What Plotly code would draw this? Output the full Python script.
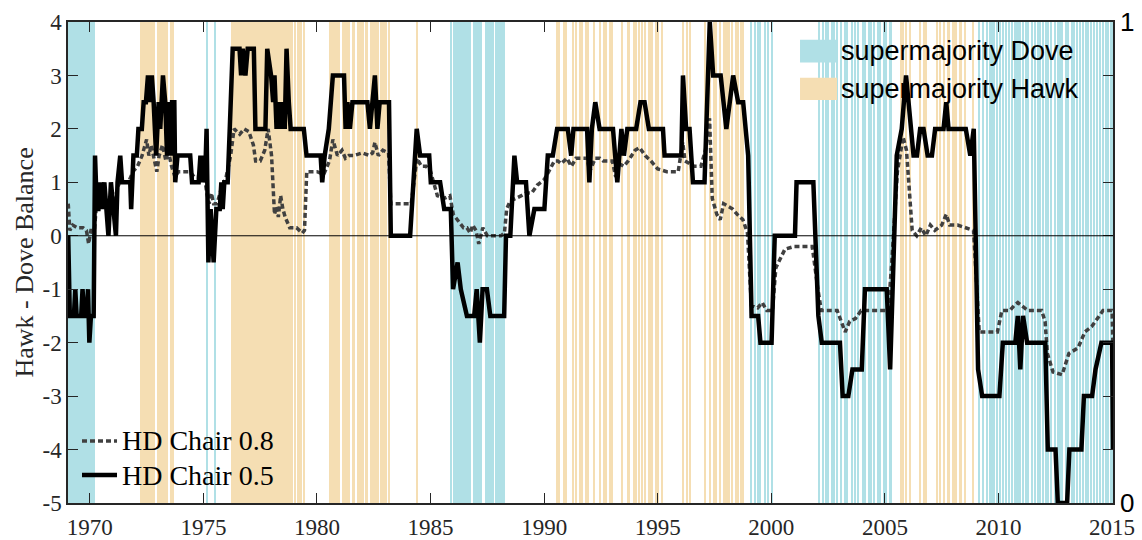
import plotly.graph_objects as go

# FOMC meetings with a supermajority of doves / hawks (decimal years)
dove_dates = [
    1969.08, 1969.15, 1969.22, 1969.30, 1969.38, 1969.46, 1969.54, 1969.62,
    1969.70, 1969.78, 1969.86, 1969.94, 1970.02, 1970.10, 1970.18,
    1975.18, 1975.49,
    1985.90, 1986.02, 1986.10, 1986.19, 1986.30, 1986.38, 1986.45, 1986.56,
    1986.63, 1986.72, 1986.90, 1986.98, 1987.06, 1987.15, 1987.23, 1987.42,
    1987.48, 1987.58, 1987.65, 1987.74, 1987.90, 1987.98, 1988.06, 1988.16,
    1988.23,
    1999.10, 1999.28, 1999.43, 1999.52, 1999.70, 1999.87, 2000.01,
    2002.12, 2002.26, 2002.42, 2002.50, 2002.68, 2002.78, 2002.88, 2003.06,
    2003.24, 2003.35, 2003.54, 2003.70, 2003.83, 2004.02, 2004.12, 2004.28,
    2004.38, 2004.51, 2004.70, 2004.79, 2004.94, 2005.05, 2005.21, 2005.27,
    2009.12, 2009.31, 2009.50, 2009.62, 2009.72, 2009.80, 2009.95, 2010.07,
    2010.21, 2010.32, 2010.47, 2010.61, 2010.72, 2010.80, 2010.88, 2010.96,
    2011.07, 2011.20, 2011.32, 2011.47, 2011.61, 2011.72, 2011.81, 2011.95,
    2012.07, 2012.20, 2012.33, 2012.47, 2012.60, 2012.70, 2012.80, 2012.95,
    2013.07, 2013.22, 2013.33, 2013.47, 2013.58, 2013.70, 2013.83, 2013.96,
    2014.07, 2014.22, 2014.32, 2014.47, 2014.58, 2014.72, 2014.83, 2014.96,
    2015.03,
]

hawk_dates = [
    1972.24, 1972.32, 1972.40, 1972.48, 1972.57, 1972.65, 1972.73, 1972.83,
    1973.00, 1973.08, 1973.16, 1973.25, 1973.33, 1973.42, 1973.58, 1973.67,
    1976.24, 1976.32, 1976.40, 1976.48, 1976.57, 1976.65, 1976.73, 1976.81,
    1976.90, 1976.98, 1977.06, 1977.15, 1977.23, 1977.31, 1977.40, 1977.48,
    1977.56, 1977.65, 1977.73, 1977.81, 1977.90, 1977.98, 1978.06, 1978.15,
    1978.23, 1978.31, 1978.40, 1978.48, 1978.56, 1978.65, 1978.73, 1978.81,
    1978.90, 1979.04, 1979.15, 1979.23, 1979.31, 1979.42,
    1980.58, 1980.66, 1980.74, 1980.82, 1980.90, 1980.98, 1981.15, 1981.24,
    1981.32, 1981.43, 1981.58, 1981.64, 1981.82, 1981.90, 1981.98, 1982.04,
    1982.16, 1982.22, 1982.36, 1982.45, 1982.57, 1982.64, 1982.70, 1982.83,
    1982.90, 1982.98, 1983.03, 1983.15,
    1984.39,
    1990.58, 1990.67, 1990.88, 1990.98, 1991.26, 1991.40, 1991.58, 1991.65,
    1991.84, 1991.94, 1992.20, 1992.44, 1992.62, 1992.71, 1992.88, 1992.99,
    1993.42, 1993.68, 1993.75, 1993.94, 1994.03, 1994.19, 1994.29, 1994.42,
    1994.60, 1994.68, 1994.76, 1994.92, 1995.03, 1995.19,
    1996.11, 1996.27, 1996.44,
    1997.10, 1997.28, 1997.47, 1997.58, 1997.76, 1997.92, 1998.00, 1998.08,
    1998.15, 1998.28, 1998.45, 1998.52, 1998.68, 1998.77,
    2005.70, 2005.78, 2005.95, 2006.11, 2006.53, 2006.72, 2006.80, 2007.28,
    2007.44, 2007.61, 2007.76, 2007.83, 2008.01, 2008.08, 2008.15, 2008.30,
    2008.37, 2008.51, 2008.86,
]

# Hawk - Dove balance with chair weight 0.5
chair05_dates = [
    1969.05, 1969.12, 1969.30, 1969.36, 1969.42, 1969.62, 1969.68, 1969.75,
    1969.86, 1969.92, 1969.98, 1970.05, 1970.17, 1970.23, 1970.31, 1970.38,
    1970.45, 1970.53, 1970.64, 1970.75, 1970.82, 1970.93, 1971.04, 1971.15,
    1971.22, 1971.34, 1971.42, 1971.78, 1971.82, 1971.92, 1972.07, 1972.14,
    1972.29, 1972.37, 1972.47, 1972.56, 1972.63, 1972.73, 1972.81, 1972.92,
    1973.03, 1973.10, 1973.22, 1973.32, 1973.40, 1973.47, 1973.57, 1973.62,
    1973.72, 1973.76, 1973.86, 1974.42, 1974.50, 1974.79, 1974.87, 1974.94,
    1975.01, 1975.07, 1975.14, 1975.22, 1975.32, 1975.45, 1975.57, 1975.72,
    1975.79, 1975.85, 1975.92, 1976.07, 1976.16, 1976.29, 1976.59, 1976.66,
    1976.73, 1976.85, 1976.95, 1977.22, 1977.29, 1977.73, 1977.81, 1977.98,
    1978.07, 1978.13, 1978.22, 1978.32, 1978.39, 1978.51, 1978.58, 1978.66,
    1978.76, 1978.84, 1979.42, 1979.54, 1980.16, 1980.23, 1980.34, 1980.52,
    1980.70, 1981.19, 1981.26, 1981.34, 1981.45, 1981.56, 1982.22, 1982.33,
    1982.44, 1982.55, 1982.66, 1982.76, 1983.17, 1983.25, 1984.10, 1984.39,
    1984.54, 1984.94, 1985.01, 1985.42, 1985.60, 1985.89, 1985.99, 1986.19,
    1986.33, 1986.60, 1986.92, 1987.03, 1987.10, 1987.17, 1987.29, 1987.48,
    1987.63, 1988.24, 1988.32, 1988.51, 1988.69, 1988.81, 1989.20, 1989.35,
    1989.57, 1990.01, 1990.16, 1990.38, 1990.57, 1991.04, 1991.19, 1991.29,
    1991.89, 1991.99, 1992.10, 1992.25, 1992.44, 1993.03, 1993.22, 1993.40,
    1993.51, 1993.66, 1994.05, 1994.24, 1994.42, 1994.61, 1995.23, 1995.30,
    1996.04, 1996.11, 1996.25, 1996.40, 1996.55, 1997.06, 1997.29, 1997.44,
    1997.77, 1998.02, 1998.32, 1998.54, 1998.76, 1998.98, 1999.13, 1999.42,
    1999.52, 2000.01, 2000.15, 2001.04, 2001.11, 2001.85, 2002.07, 2002.22,
    2003.02, 2003.14, 2003.39, 2003.57, 2003.98, 2004.12, 2005.08, 2005.23,
    2005.52, 2005.74, 2005.93, 2006.26, 2006.41, 2006.55, 2006.70, 2006.88,
    2007.07, 2007.21, 2007.58, 2007.70, 2007.80, 2008.56, 2008.76, 2008.91,
    2009.10, 2009.28, 2010.04, 2010.19, 2010.74, 2010.85, 2010.96, 2011.08,
    2011.26, 2012.06, 2012.17, 2012.51, 2012.61, 2013.02, 2013.12, 2013.65,
    2013.76, 2014.12, 2014.27, 2014.53, 2015.00, 2015.04,
]
chair05_balance = [
    0.0, -1.5, -1.5, -1.0, -1.5, -1.5, -1.0, -1.5,
    -1.5, -1.0, -2.0, -1.5, -1.5, 1.5, 0.5, 0.5,
    1.0, 0.5, 1.0, 0.5, 0.0, 1.0, 0.5, 0.0,
    1.0, 1.5, 1.0, 1.0, 0.5, 1.5, 1.5, 2.0,
    2.0, 2.5, 2.5, 3.0, 2.5, 3.0, 2.5, 1.5,
    2.5, 2.0, 3.0, 2.5, 1.5, 2.5, 1.5, 2.5,
    2.5, 1.0, 1.5, 1.5, 1.0, 1.0, 1.5, 1.0,
    1.5, 1.0, 2.0, -0.5, 0.5, -0.5, 0.5, 0.5,
    1.0, 0.5, 1.0, 1.0, 2.0, 3.5, 3.5, 3.0,
    3.5, 3.0, 3.5, 3.5, 2.0, 2.0, 3.5, 3.0,
    2.5, 3.0, 2.0, 2.5, 2.0, 2.5, 2.0, 3.5,
    2.5, 2.0, 2.0, 1.5, 1.5, 1.0, 1.5, 2.0,
    3.0, 3.0, 2.0, 2.5, 2.0, 2.5, 2.5, 2.0,
    2.5, 3.0, 2.0, 2.5, 2.5, 0.0, 0.0, 2.0,
    1.5, 1.5, 1.0, 1.0, 0.5, 0.5, -1.0, -0.5,
    -1.0, -1.5, -1.5, -1.0, -1.5, -2.0, -1.0, -1.0,
    -1.5, -1.5, 0.0, 0.0, 1.5, 1.0, 1.0, 0.0,
    0.5, 0.5, 1.5, 1.5, 2.0, 2.0, 1.5, 2.0,
    2.0, 1.0, 2.0, 2.5, 2.0, 2.0, 1.0, 2.0,
    1.5, 2.0, 2.0, 2.5, 2.5, 2.0, 2.0, 1.5,
    1.5, 3.0, 2.0, 2.0, 1.0, 1.0, 4.0, 3.0,
    3.0, 2.0, 3.0, 2.5, 2.5, 1.5, -1.5, -1.5,
    -2.0, -2.0, 0.0, 0.0, 1.0, 1.0, -1.5, -2.0,
    -2.0, -3.0, -3.0, -2.5, -2.5, -1.0, -1.0, -2.5,
    1.5, 2.0, 3.0, 1.5, 1.5, 2.0, 2.0, 1.5,
    1.5, 2.0, 2.0, 2.5, 2.0, 2.0, 1.5, 2.0,
    -2.5, -3.0, -3.0, -2.0, -2.0, -1.5, -2.5, -1.5,
    -2.0, -2.0, -4.0, -4.0, -5.0, -5.0, -4.0, -4.0,
    -3.0, -3.0, -2.5, -2.0, -2.0, -4.0,
]

# Hawk - Dove balance with chair weight 0.8
chair08_dates = [
    1969.05, 1969.12, 1969.25, 1969.45, 1969.70, 1969.85, 1969.95, 1970.05,
    1970.20, 1970.30, 1970.50, 1970.70, 1970.90, 1971.10, 1971.30, 1971.70,
    1971.90, 1972.10, 1972.30, 1972.50, 1972.60, 1972.70, 1972.85, 1972.95,
    1973.05, 1973.20, 1973.35, 1973.45, 1973.60, 1973.75, 1973.90, 1974.40,
    1974.60, 1974.90, 1975.05, 1975.15, 1975.25, 1975.35, 1975.45, 1975.60,
    1975.80, 1976.00, 1976.20, 1976.35, 1976.60, 1976.80, 1977.00, 1977.20,
    1977.30, 1977.50, 1977.70, 1977.85, 1978.00, 1978.13, 1978.22, 1978.30,
    1978.40, 1978.50, 1978.60, 1978.80, 1979.10, 1979.35, 1979.45, 1979.55,
    1980.00, 1980.30, 1980.55, 1980.70, 1980.90, 1981.10, 1981.25, 1981.40,
    1981.60, 1982.00, 1982.30, 1982.45, 1982.55, 1982.70, 1982.90, 1983.15,
    1983.25, 1984.15, 1984.40, 1984.60, 1984.80, 1985.00, 1985.30, 1985.60,
    1985.85, 1986.00, 1986.20, 1986.45, 1986.60, 1986.75, 1986.85, 1987.00,
    1987.12, 1987.30, 1987.50, 1987.80, 1988.10, 1988.25, 1988.35, 1988.50,
    1988.80, 1989.00, 1989.20, 1989.45, 1989.70, 1990.00, 1990.20, 1990.45,
    1990.60, 1990.75, 1991.00, 1991.20, 1991.40, 1991.90, 1992.00, 1992.10,
    1992.25, 1992.45, 1992.60, 1993.00, 1993.15, 1993.30, 1993.50, 1993.70,
    1994.00, 1994.20, 1994.45, 1994.70, 1995.00, 1995.40, 1995.90, 1996.10,
    1996.20, 1996.40, 1996.60, 1996.90, 1997.10, 1997.28, 1997.40, 1997.60,
    1997.75, 1997.90, 1998.10, 1998.30, 1998.50, 1998.75, 1998.95, 1999.12,
    1999.40, 1999.60, 1999.80, 2000.05, 2000.20, 2000.60, 2001.00, 2001.80,
    2002.05, 2002.20, 2002.90, 2003.10, 2003.25, 2003.45, 2003.70, 2003.95,
    2005.15, 2005.30, 2005.55, 2005.80, 2005.95, 2006.10, 2006.20, 2006.40,
    2006.60, 2006.80, 2007.00, 2007.20, 2007.50, 2007.70, 2007.85, 2008.20,
    2008.60, 2008.90, 2009.05, 2009.15, 2009.60, 2009.95, 2010.15, 2010.50,
    2010.70, 2010.85, 2011.00, 2011.30, 2011.90, 2012.05, 2012.15, 2012.40,
    2012.80, 2013.10, 2013.50, 2013.80, 2014.10, 2014.35, 2014.60, 2015.00,
    2015.04,
]
chair08_balance = [
    0.6, 0.1, 0.2, 0.15, 0.15, 0.1, -0.15, 0.1,
    0.1, 0.6, 0.8, 0.6, 0.5, 0.7, 1.0, 1.0,
    1.2, 1.3, 1.5, 1.8, 1.5, 1.7, 1.4, 1.2,
    1.5, 1.7, 1.4, 1.6, 1.3, 1.1, 1.2, 1.2,
    1.1, 1.1, 1.1, 0.8, 0.6, 0.8, 0.6, 0.6,
    0.9, 1.1, 1.5, 2.0, 1.9, 2.0, 1.95, 1.7,
    1.4, 1.4, 1.6, 2.0, 1.5, 0.4, 0.55, 0.35,
    0.75, 0.5, 0.35, 0.15, 0.15, 0.05, 0.1, 1.2,
    1.2, 1.15, 1.4, 1.8, 1.5, 1.6, 1.45, 1.5,
    1.5, 1.55, 1.5, 1.55, 1.75, 1.5, 1.6, 1.55,
    0.6, 0.6, 1.45, 1.3, 1.3, 1.2, 0.75, 0.7,
    0.75, 0.4, 0.3, 0.15, 0.15, 0.05, 0.2, 0.1,
    -0.15, 0.15, 0.0, 0.0, 0.0, 0.05, 0.5, 0.65,
    0.7, 0.75, 0.8, 0.8, 0.95, 1.05, 1.2, 1.4,
    1.4, 1.35, 1.45, 1.3, 1.45, 1.45, 1.2, 1.3,
    1.45, 1.45, 1.4, 1.4, 1.1, 1.35, 1.3, 1.4,
    1.6, 1.65, 1.5, 1.4, 1.25, 1.2, 1.2, 1.75,
    1.4, 1.35, 1.3, 1.3, 1.6, 2.2, 0.7, 0.4,
    0.3, 0.6, 0.55, 0.5, 0.4, 0.3, 0.05, -1.3,
    -1.35, -1.25, -1.4, -1.4, -0.6, -0.25, -0.2, -0.2,
    -1.0, -1.4, -1.4, -1.65, -1.8, -1.6, -1.55, -1.4,
    -1.4, -0.5, 1.2, 1.85, 1.6, 0.7, 0.1, 0.0,
    0.15, 0.0, 0.2, 0.1, 0.2, 0.4, 0.2, 0.2,
    0.15, 0.1, -1.0, -1.8, -1.8, -1.8, -1.4, -1.4,
    -1.3, -1.25, -1.3, -1.4, -1.4, -1.6, -2.2, -2.55,
    -2.6, -2.2, -2.1, -1.8, -1.7, -1.55, -1.4, -1.4,
    -2.1,
]

year_ticks = [1970, 1975, 1980, 1985, 1990, 1995, 2000, 2005, 2010, 2015]
balance_ticks = [-5, -4, -3, -2, -1, 0, 1, 2, 3, 4]

DOVE = "#B0E0E6"
HAWK = "#F5DEB3"
AXIS = "#262626"
SERIF = "Liberation Serif, Times New Roman, serif"
SANS = "Liberation Sans, Arial, sans-serif"
BAR_W = 0.045

fig = go.Figure()

# meeting indicators on the right (0-1) axis
fig.add_trace(go.Bar(x=dove_dates, y=[1] * len(dove_dates), width=BAR_W,
                     marker=dict(color=DOVE, line=dict(width=0)),
                     xaxis="x", yaxis="y", showlegend=False))
fig.add_trace(go.Bar(x=hawk_dates, y=[1] * len(hawk_dates), width=BAR_W,
                     marker=dict(color=HAWK, line=dict(width=0)),
                     xaxis="x", yaxis="y", showlegend=False))

# balance lines on the left axis
fig.add_trace(go.Scatter(x=chair08_dates, y=chair08_balance, mode="lines",
                         line=dict(color="#404040", width=3.5, dash="5px,3px"),
                         xaxis="x", yaxis="y2", showlegend=False))
fig.add_trace(go.Scatter(x=chair05_dates, y=chair05_balance, mode="lines",
                         line=dict(color="black", width=4.5),
                         xaxis="x", yaxis="y2", showlegend=False))

# zero reference line
fig.add_shape(type="line", xref="paper", x0=0, x1=1, yref="y2", y0=0, y1=0,
              line=dict(color="black", width=1), layer="above")

# legend for the meeting indicators (top right)
for y0, y1, col, label in [(0.916, 0.963, DOVE, "supermajority Dove"),
                           (0.838, 0.884, HAWK, "supermajority Hawk")]:
    fig.add_shape(type="rect", xref="paper", yref="paper",
                  x0=0.7005, x1=0.7359, y0=y0, y1=y1,
                  fillcolor=col, line=dict(width=0), layer="above")
    fig.add_annotation(xref="paper", yref="paper", x=0.7375, y=(y0 + y1) / 2,
                       text=label, showarrow=False, xanchor="left",
                       yanchor="middle",
                       font=dict(family=SANS, size=27, color="black"))

# legend for the balance lines (bottom left)
for yy, dash, col, w, label in [(0.129, "5px,3px", "#404040", 3.5, "HD Chair 0.8"),
                                (0.058, "solid", "black", 4.5, "HD Chair 0.5")]:
    fig.add_shape(type="line", xref="paper", yref="paper",
                  x0=0.0134, x1=0.0469, y0=yy, y1=yy,
                  line=dict(color=col, width=w, dash=dash), layer="above")
    fig.add_annotation(xref="paper", yref="paper", x=0.0495, y=yy,
                       text=label, showarrow=False, xanchor="left",
                       yanchor="middle",
                       font=dict(family=SERIF, size=28, color="black"))

# left axis title
fig.add_annotation(xref="paper", yref="paper", x=-0.042, y=0.5,
                   text="Hawk - Dove Balance", textangle=-90, showarrow=False,
                   xanchor="center", yanchor="middle",
                   font=dict(family=SERIF, size=26, color=AXIS))

fig.update_layout(
    width=1142, height=540,
    margin=dict(l=68, r=29, t=22, b=37, autoexpand=False),
    paper_bgcolor="white", plot_bgcolor="white",
    barmode="overlay", bargap=0,
    showlegend=False,
    xaxis=dict(range=[1969.04, 2015.04], tickvals=year_ticks,
               ticktext=[str(t) for t in year_ticks],
               ticks="inside", ticklen=10, tickwidth=1.3, tickcolor=AXIS,
               showline=True, linecolor=AXIS, linewidth=1.5, mirror="ticks",
               showgrid=False, zeroline=False, ticklabelstandoff=3,
               tickfont=dict(family=SERIF, size=23, color=AXIS)),
    yaxis=dict(range=[0, 1], side="right",
               tickvals=[k / 9 for k in range(10)],
               ticktext=["0"] + [""] * 8 + ["1"],
               ticks="inside", ticklen=10, tickwidth=1.3, tickcolor=AXIS,
               showline=True, linecolor=AXIS, linewidth=1.5,
               showgrid=False, zeroline=False,
               tickfont=dict(family=SANS, size=26, color="black")),
    yaxis2=dict(range=[-5, 4], overlaying="y", side="left",
                tickvals=balance_ticks,
                ticktext=[str(v) for v in balance_ticks],
                ticks="inside", ticklen=10, tickwidth=1.3, tickcolor=AXIS,
                showline=True, linecolor=AXIS, linewidth=1.5,
                showgrid=False, zeroline=False,
                tickfont=dict(family=SERIF, size=23, color=AXIS)),
)

fig.write_html("out.html")
